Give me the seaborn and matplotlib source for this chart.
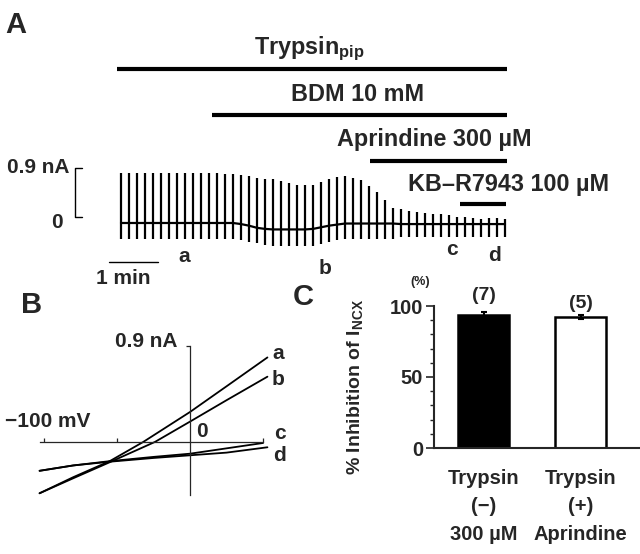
import numpy as np
import pandas as pd
import matplotlib
matplotlib.use('Agg')
import matplotlib.pyplot as plt
import seaborn as sns
from matplotlib.ticker import MultipleLocator

sns.set_style('ticks')
plt.rcParams['font.family'] = ['Liberation Sans', 'DejaVu Sans']
plt.rcParams['font.weight'] = 'bold'
plt.rcParams['mathtext.fontset'] = 'custom'
plt.rcParams['mathtext.rm'] = 'Liberation Sans:bold'
plt.rcParams['mathtext.default'] = 'rm'

# A: NCX current trace, one ramp every 10 s (peak / trough / holding in nA)
spike_top = [0.93, 0.93, 0.93, 0.93, 0.93, 0.93, 0.93, 0.93, 0.93, 0.93, 0.93, 0.93, 0.93,
             0.92, 0.91, 0.89, 0.87, 0.84, 0.82, 0.81, 0.78, 0.75, 0.71, 0.70, 0.71, 0.76,
             0.81, 0.86, 0.87, 0.84, 0.80, 0.68, 0.57, 0.43, 0.28, 0.26, 0.22, 0.20, 0.19,
             0.17, 0.16, 0.14, 0.12, 0.11, 0.09, 0.08, 0.09, 0.09, 0.07]
spike_bottom = [-0.30] * 15 + [-0.32, -0.35, -0.38, -0.41, -0.42, -0.42, -0.42, -0.42, -0.42,
                               -0.42, -0.39, -0.35, -0.31] + [-0.29] * 7 + [-0.27] * 14
holding = [0.0] * 15 + [-0.02, -0.05, -0.09, -0.11, -0.12, -0.12, -0.12, -0.12, -0.12,
                        -0.11, -0.08, -0.05, -0.03] + [-0.01] * 7 + [-0.02] * 14
spike_idx = np.arange(len(spike_top))

drugs = ['Trypsin$_{\\mathrm{pip}}$', 'BDM 10 mM', 'Aprindine 300 µM', 'KB–R7943 100 µM']
drug_start = [-0.5, 11.4, 31.1, 42.4]
drug_end = [48.3, 48.3, 48.3, 48.1]
marks = ['a', 'b', 'c', 'd']
mark_idx = [7.9, 25.5, 41.4, 46.7]

# B: I-V curves
iv_mv = {'a': [-103, -80, -55, -32, 0, 25, 53],
         'b': [-103, -80, -55, -24, 0, 25, 53],
         'c': [-103, -80, -55, -25, 0, 25, 50],
         'd': [-103, -80, -55, -25, 0, 25, 53]}
iv_na = {'a': [-0.48, -0.33, -0.18, 0.0, 0.28, 0.52, 0.79],
         'b': [-0.48, -0.34, -0.19, 0.0, 0.19, 0.39, 0.61],
         'c': [-0.27, -0.22, -0.18, -0.14, -0.11, -0.06, -0.01],
         'd': [-0.27, -0.22, -0.185, -0.15, -0.125, -0.10, -0.05]}

# C: % inhibition
conditions = ['Trypsin\n(−)\n300 µM', 'Trypsin\n(+)\nAprindine']
inhibition = [93.7, 92.0]
inhibition_sem = [2.0, 1.5]
n_cells = ['(7)', '(5)']

W, H = 640, 554
def box(x0, y0, x1, y1):
    return [x0 / W, 1 - y1 / H, (x1 - x0) / W, (y1 - y0) / H]

fig = plt.figure(figsize=(6.4, 5.54), dpi=100)

# Panel A =====================================================================
axA = fig.add_axes(box(0, 0, 640, 290))
axA.set_xlim(-15.125, 64.875)
axA.set_ylim(-1.248, 4.153)
axA.axis('off')

axA.vlines(spike_idx, spike_bottom, spike_top, color='black', lw=1.6)
sns.lineplot(x=spike_idx, y=holding, color='black', lw=1.6, ax=axA)

bar_y = [2.87, 2.01, 1.15, 0.35]
txt_xy = [(16.6, 3.24, 'left'), (29.6, 2.40, 'center'), (39.2, 1.55, 'center'), (48.4, 0.71, 'center')]
for d, s, e, by, (tx, ty, ha) in zip(drugs, drug_start, drug_end, bar_y, txt_xy):
    axA.plot([s, e], [by, by], color='black', lw=3, solid_capstyle='butt')
    axA.text(tx, ty, d, fontsize=16.8, ha=ha, va='center')

mark_y = [-0.63, -0.84, -0.50, -0.61]
for m, mx, my in zip(marks, mark_idx, mark_y):
    axA.text(mx, my, m, fontsize=15, ha='center', va='center')

# scale bars
axA.plot([-1.5, 4.6], [-0.73, -0.73], color='black', lw=1)
axA.text(0.25, -1.04, '1 min', fontsize=15, ha='center', va='center')
axA.plot([-4.9, -5.75, -5.75, -4.9], [1.02, 1.02, 0.11, 0.11], color='black', lw=1)
axA.text(-6.5, 1.04, '0.9 nA', fontsize=15, ha='right', va='center')
axA.text(-8.0, 0.0, '0', fontsize=15, ha='center', va='center')

# Panel B =====================================================================
axB = fig.add_axes(box(20, 320, 300, 520))
axB.set_xlim(-116.4, 75.3)
axB.set_ylim(-0.73, 1.14)
for k in iv_mv:
    sns.lineplot(x=iv_mv[k], y=iv_na[k], color='black', lw=1.3, ax=axB)
sns.despine(ax=axB)
axB.spines['left'].set_position(('data', 0))
axB.spines['bottom'].set_position(('data', 0))
axB.spines['left'].set_bounds(-0.50, 0.9)
axB.spines['bottom'].set_bounds(-103, 50)
axB.spines['left'].set_linewidth(0.9)
axB.spines['bottom'].set_linewidth(0.9)
axB.set_xticks([-100, -50, 50])
axB.set_yticks([0.9])
axB.tick_params(axis='x', direction='in', length=3, width=0.9, labelbottom=False)
axB.tick_params(axis='y', direction='out', length=3, width=0.9, labelleft=False)
axB.set_facecolor('none')

lab_y = {'a': 0.83, 'b': 0.58, 'c': 0.075, 'd': -0.128}
lab_x = {'a': 60.5, 'b': 60.5, 'c': 61.6, 'd': 61.6}
for k in iv_mv:
    axB.text(lab_x[k], lab_y[k], k, fontsize=15, ha='center', va='center')
axB.text(-8.9, 0.935, '0.9 nA', fontsize=15, ha='right', va='center')
axB.text(-97.6, 0.19, '−100 mV', fontsize=15, ha='center', va='center')
axB.text(8.0, 0.096, '0', fontsize=15, ha='center', va='center')

# Panel C =====================================================================
axC = fig.add_axes(box(434, 306, 639, 448))
dfC = pd.DataFrame({'cond': conditions, 'inh': inhibition})
sns.barplot(data=dfC, x='cond', y='inh', hue='cond', palette=['black', 'white'],
            edgecolor='black', linewidth=1.8, width=0.52, legend=False, ax=axC)
axC.errorbar(x=[0, 1], y=inhibition, yerr=inhibition_sem, fmt='none',
             ecolor='black', elinewidth=1.5, capsize=2, capthick=1.5)
axC.set_xlim(-0.51, 1.6)
axC.set_ylim(0, 100)
sns.despine(ax=axC)
axC.spines['left'].set_linewidth(1.5)
axC.spines['bottom'].set_linewidth(1.5)
axC.set_yticks([0, 50, 100])
axC.yaxis.set_minor_locator(MultipleLocator(10))
axC.tick_params(axis='y', which='major', length=6, width=1.2, labelsize=14.5, pad=2)
axC.tick_params(axis='y', which='minor', length=3, width=1.0)
axC.tick_params(axis='x', length=0, labelsize=14.5, pad=15)
for lbl in axC.get_xticklabels():
    lbl.set_linespacing(1.6)
axC.set_xlabel('')
axC.set_ylabel('')
for i, n in enumerate(n_cells):
    axC.text(i, [107.7, 102.0][i], n, fontsize=14, ha='center', va='center')
axC.text(-0.65, 117, '(%)', fontsize=9, ha='center', va='center')
axC.text(-0.385, 0.43, '% Inhibition of I$_{\\mathrm{NCX}}$', fontsize=14, rotation=90,
         ha='center', va='center', transform=axC.transAxes)

# panel letters
for lt, px, py in [('A', 16, 25), ('B', 32, 305), ('C', 303, 297)]:
    fig.text(px / W, 1 - py / H, lt, fontsize=21, fontweight='bold', ha='center', va='center')

fig.savefig('out.png', dpi=100)
